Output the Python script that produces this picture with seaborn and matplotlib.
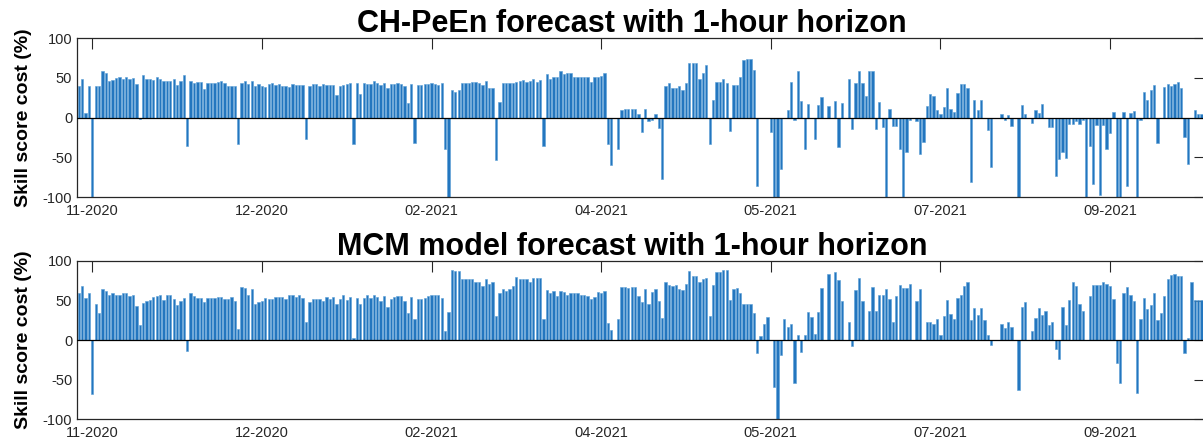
import matplotlib
matplotlib.use("Agg")
import matplotlib.pyplot as plt
import numpy as np
import pandas as pd
import seaborn as sns


font_size = 22
label_size = 14
tick_size = 10.5
bar_color = "#2376bf"
axis_color = "#262626"

start_date = "2020-11-01"

# daily skill score cost (%), CH-PeEn forecast, from 2020-11-01
ch_peen = [
    39, 48, 6, 39, -100, 40, 39, 59, 56, 46, 47, 50, 51, 49, 51, 49, 50, 42, -2, 54,
    49, 49, 47, 51, 48, 46, 46, 46, 49, 41, 46, 54, -36, 46, 43, 45, 45, 36, 43, 44,
    44, 45, 46, 43, 39, 40, 40, -33, 43, 46, 42, 46, 40, 42, 40, 38, 42, 43, 41, 42,
    40, 40, 38, 42, 41, 41, 41, -27, 40, 42, 42, 40, 42, 41, 41, 41, 28, 40, 41, 42,
    43, -33, 44, 30, 43, 42, 42, 46, 43, 41, 44, 37, 42, 42, 43, 42, 40, 18, 42, -32,
    41, 41, 42, 42, 43, 42, 41, 43, -39, -100, 35, 32, 35, 43, 43, 43, 45, 45, 44, 41,
    46, 37, 37, -53, 19, 44, 43, 43, 44, 45, 46, 47, 45, 46, 48, 45, 47, -36, 55, 49,
    51, 51, 58, 55, 56, 56, 51, 51, 51, 51, 51, 45, 51, 51, 52, 56, -33, -60, 0, -40,
    9, 11, 11, 11, 11, 5, -18, 11, -4, -3, 4, -13, -77, 40, 43, 37, 37, 40, 35, 43,
    69, 69, 68, 48, 56, 66, -33, 22, 45, 45, 49, 43, -17, 41, 41, 51, 72, 73, 74, 60,
    -86, 0, 0, 0, -18, -100, -100, -65, 0, 10, 45, -3, 59, 21, -39, 17, 0, -27, 16, 26,
    0, 14, 0, 21, -37, 18, 0, 49, -15, 43, 58, 43, 27, 58, 58, -14, 20, -12, -100, 11,
    -11, -11, -39, -100, -43, -3, 0, -4, -46, -31, 14, 30, 27, 10, 4, 13, 37, 11, 7, 31,
    42, 42, 37, -81, 22, 10, 22, 0, -16, -62, 0, 0, 5, -3, 3, -11, 0, -100, 16, 4,
    0, -7, 10, 6, 17, 0, -12, -12, -74, -52, -43, -51, -8, -8, -5, -8, -3, -100, -36, -84,
    -10, -97, -10, -40, -19, 7, -100, -100, 7, -86, 6, 8, -100, -3, 32, 22, 35, 41, -32, 0,
    38, 42, 40, 42, 45, 37, -24, -58, 0, 9, 4, 5,
]

# daily skill score cost (%), MCM model forecast
mcm = [
    60, 68, 53, 60, -68, 46, 34, 64, 62, 57, 60, 57, 57, 59, 59, 56, 57, 43, 19, 47,
    49, 51, 54, 56, 57, 51, 57, 57, 52, 44, 50, 53, -14, 59, 56, 53, 53, 48, 53, 53,
    53, 54, 54, 52, 52, 54, 50, 14, 67, 66, 57, 65, 46, 48, 50, 53, 52, 52, 54, 54,
    54, 52, 57, 57, 54, 57, 53, 23, 48, 52, 52, 52, 50, 54, 52, 54, 45, 52, 57, 51,
    54, 2, 53, 45, 53, 57, 53, 57, 54, 50, 56, 42, 52, 54, 56, 56, 50, 34, 54, 27,
    52, 52, 53, 56, 57, 57, 57, 53, 11, 36, 89, 87, 87, 77, 77, 77, 77, 74, 74, 68,
    77, 71, 74, 30, 59, 64, 62, 65, 68, 80, 77, 77, 77, 74, 78, 79, 78, 27, 63, 59,
    62, 56, 62, 61, 57, 59, 60, 60, 57, 57, 56, 52, 54, 61, 59, 62, 22, 13, 0, 26,
    67, 67, 66, 67, 67, 56, 48, 64, 46, 61, 64, 49, 28, 73, 70, 68, 70, 65, 63, 71,
    87, 81, 81, 74, 77, 78, 30, 70, 86, 86, 89, 89, 51, 65, 66, 60, 45, 45, 46, 34,
    -16, 5, 20, 29, 0, -59, -100, -19, 27, 16, 20, -55, 6, -15, 6, 36, 29, 8, 36, 66,
    0, 83, 0, 86, 76, 50, 0, 23, -7, 63, 78, 49, 0, 37, 67, 37, 57, 57, 64, 52,
    23, 56, 70, 66, 66, 71, 0, 49, 64, 0, 23, 23, 20, 26, 6, 31, 51, 33, 27, 53,
    57, 68, 73, 25, 40, 32, 40, 25, 6, -6, 0, 0, 20, 15, 23, 17, 0, -63, 42, 48,
    0, 11, 28, 40, 32, 37, 19, 23, -11, -24, 42, 19, 51, 73, 68, 45, 37, 0, 56, 70,
    70, 70, 74, 71, 68, 52, -29, -55, 60, 67, 57, 49, -67, 26, 53, 39, 44, 59, 25, 34,
    56, 77, 82, 84, 81, 81, -16, 2, 74, 51, 51, 51,
]

tick_dates = ["2020-11-05", "2020-12-25", "2021-02-13", "2021-04-04",
              "2021-05-24", "2021-07-13", "2021-09-01"]
tick_labels = ["11-2020", "12-2020", "02-2021", "04-2021", "05-2021", "07-2021", "09-2021"]
y_ticks = [-100, -50, 0, 50, 100]

titles = ["CH-PeEn forecast with 1-hour horizon", "MCM model forecast with 1-hour horizon"]


def draw_panel(ax, values, title):
    days = pd.date_range(start_date, periods=len(values), freq="D")
    df = pd.DataFrame({"day": np.arange(len(values)), "score": values})
    sns.barplot(data=df, x="day", y="score", color=bar_color, saturation=1,
                width=0.68, errorbar=None, edgecolor="#5b9fd6", linewidth=0.4, ax=ax)
    ax.axhline(0, color="black", linewidth=0.9, zorder=5)
    ax.set_xlim(-0.5, 332)
    ax.set_ylim(-100, 100)
    ax.set_yticks(y_ticks)
    ax.set_yticklabels([str(v) for v in y_ticks])
    tick_pos = days.get_indexer(pd.to_datetime(tick_dates))
    ax.set_xticks(tick_pos)
    ax.set_xticklabels(tick_labels)
    ax.set_xlabel("")
    ax.set_ylabel("Skill score cost (%)", fontsize=label_size, fontweight="bold", color="black")
    ax.yaxis.set_label_coords(-0.040, 0.5)
    ax.set_title(title, fontsize=font_size, fontweight="bold", pad=4, x=0.492, color="black")
    ax.tick_params(direction="in", length=8, width=0.8, top=True, right=True,
                   colors=axis_color, labelsize=tick_size)
    ax.tick_params(axis="x", pad=5)
    for s in ax.spines.values():
        s.set_color(axis_color)
        s.set_linewidth(0.9)
        s.set_visible(True)


def main():
    sns.set_style("white")
    plt.rcParams["font.family"] = ["Liberation Sans", "DejaVu Sans"]
    fig = plt.figure(figsize=(12.03, 4.48), dpi=100)
    ax1 = fig.add_axes([77 / 1203, (448 - 197) / 448, 1128 / 1203, 159 / 448])
    ax2 = fig.add_axes([77 / 1203, (448 - 419) / 448, 1128 / 1203, 158 / 448])
    draw_panel(ax1, ch_peen, titles[0])
    draw_panel(ax2, mcm, titles[1])
    fig.savefig("out.png", dpi=100)


if __name__ == "__main__":
    main()
